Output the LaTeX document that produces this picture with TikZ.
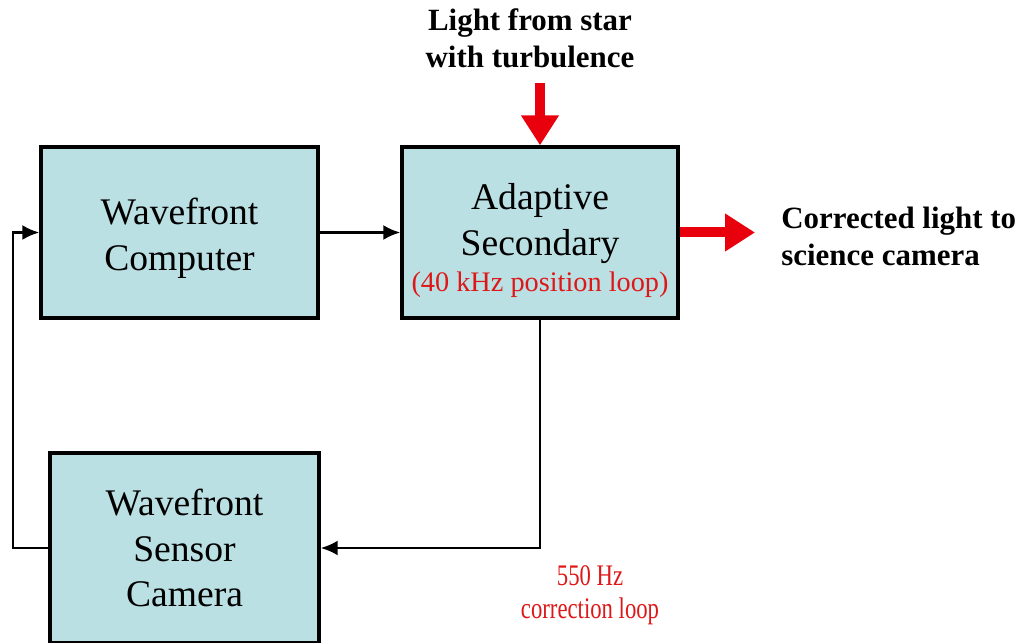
\documentclass[tikz,border=0pt]{standalone}
\usepackage{fontspec}
\setmainfont{Liberation Serif}
\usetikzlibrary{arrows.meta}

\definecolor{boxfill}{RGB}{187,224,227}
\definecolor{beamred}{RGB}{232,0,12}
\definecolor{looptext}{RGB}{222,24,24}

\begin{document}
\begin{tikzpicture}[
    box/.style={draw, line width=1.9pt, fill=boxfill, align=center,
        font=\fontsize{21.4}{26}\selectfont, inner sep=0pt},
    flow/.style={line width=1.5pt, -{Latex[length=0.34cm, width=0.3cm]}},
    lightarrow/.style={beamred, line width=0.2cm, -{Triangle[length=0.6cm, width=0.72cm]}},
    heading/.style={font=\fontsize{17.6}{21}\selectfont\bfseries, inner sep=0pt}
]
    \useasboundingbox (0,0) rectangle (20.44,12.84);

    % --- Blocks ---
    \node[box, minimum width=5.54cm, minimum height=3.42cm] (comp) at (3.59,8.19)
        {\rule{0pt}{21.5pt}Wavefront\\Computer};
    \node[box, minimum width=5.52cm, minimum height=3.42cm] (sec) at (10.80,8.19)
        {\rule{0pt}{24pt}Adaptive\\Secondary\\[-5.5pt]{\fontsize{16.1}{19}\selectfont\color{looptext}(40 kHz position loop)}};
    \node[box, minimum width=5.38cm, minimum height=3.8cm] (wfs) at (3.69,1.88)
        {Wavefront\\Sensor\\Camera};

    % --- Light path labels ---
    \node[heading, align=center] (star) at (10.60,12.07) {Light from star\\with turbulence};
    \node[heading, align=left, anchor=west] (out) at (15.62,8.11) {Corrected light to\\science camera};
    \node[text=looptext, align=center, font=\fontsize{17}{19}\selectfont] (rate) at (11.80,0.93)
        {\scalebox{0.76}[1]{550 Hz}\\\scalebox{0.76}[1]{correction loop}};

    % --- Light arrows ---
    \coordinate (lin) at (10.80,11.18);
    \draw[lightarrow] (lin) -- (sec.north);
    \draw[lightarrow] (sec.east) -- ([xshift=-0.52cm]sec.east -| out.west);

    % --- Control loop ---
    \coordinate (lp) at (0.26,0);
    \draw[flow] (comp.east) -- (sec.west);
    \draw[flow] (sec.south) |- (wfs.east);
    \draw[flow] (wfs.west) -- (wfs.west -| lp) |- (comp.west);

\end{tikzpicture}
\end{document}
